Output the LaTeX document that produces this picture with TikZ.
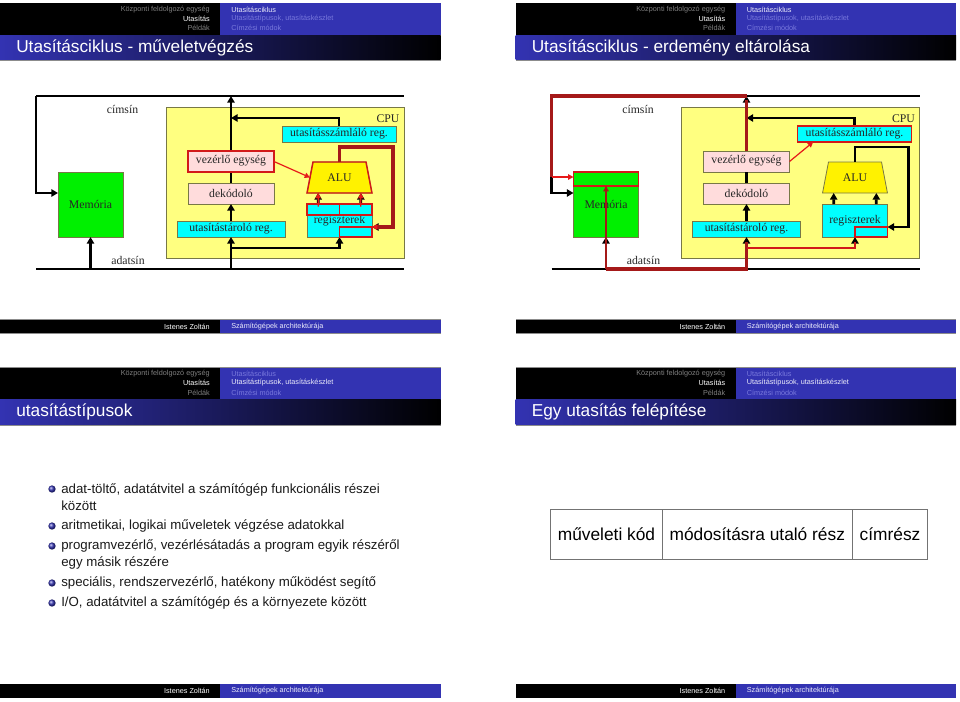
\documentclass[tikz,border=0pt]{standalone}
\usepackage{fontspec}
\setmainfont{Liberation Serif}
\setsansfont{Liberation Sans}
\usetikzlibrary{arrows.meta,positioning,calc,shapes.geometric}
\definecolor{clrHd}{RGB}{51,51,178}
\definecolor{clrOn}{RGB}{235,235,250}
\definecolor{clrOff}{RGB}{120,120,220}
\definecolor{clrCpu}{RGB}{255,255,128}
\definecolor{clrEdge}{RGB}{120,120,70}
\definecolor{clrReg}{RGB}{0,255,255}
\definecolor{clrDec}{RGB}{255,220,220}
\definecolor{clrMem}{RGB}{0,240,0}
\definecolor{clrHl}{RGB}{230,25,25}
\definecolor{clrDk}{RGB}{165,25,25}

\begin{document}
\begin{tikzpicture}[x=0.75pt,y=-0.75pt,
   lbl/.style={font=\rmfamily\fontsize{8.8pt}{10pt}\selectfont,text=black!85},
   unit/.style={rectangle,draw=clrEdge,line width=0.6pt,inner sep=0pt,outer sep=0pt,align=center,
     font=\rmfamily\fontsize{8.8pt}{10pt}\selectfont,text=black!85},
   navl/.style={anchor=east,inner sep=0pt,font=\sffamily\fontsize{5.45pt}{7pt}\selectfont},
   navr/.style={anchor=west,inner sep=0pt,font=\sffamily\fontsize{5.45pt}{7pt}\selectfont},
   ttl/.style={anchor=west,inner sep=0pt,text=white,font=\sffamily\fontsize{12.95pt}{15pt}\selectfont},
   itm/.style={anchor=west,align=left,inner sep=0pt,font=\sffamily\fontsize{9.95pt}{12.5pt}\selectfont,text=black!90},
   dot/.style={circle,shade,ball color=clrHd,minimum size=5.5pt,inner sep=0pt},
   cell/.style={rectangle,draw=black!55,line width=0.8pt,inner sep=0pt,outer sep=0pt,minimum height=38pt,
     font=\sffamily\fontsize{13pt}{15pt}\selectfont},
   wire/.style={line width=2.1pt,black},
   ar/.style={wire,-{Triangle[length=5pt,width=5.5pt]}},
   hl/.style={draw=clrHl!70!clrDk,line width=1.1pt},
   hot/.style={line width=2.4pt,draw=clrDk},
   thin/.style={line width=0.9pt,draw=clrHl,-{Triangle[length=4pt,width=4pt]}}]

  \useasboundingbox (0,0) rectangle (960,701);

  % slide frames
  \foreach \s/\sx/\sy/\head/\cA/\cB in {
      a/0/0/Utasításciklus - műveletvégzés/clrOn/clrOff,
      b/515.5/0/Utasításciklus - erdemény eltárolása/clrOn/clrOff,
      c/0/364.5/utasítástípusok/clrOff/clrOn,
      d/515.5/364.5/Egy utasítás felépítése/clrOff/clrOn} {
    \begin{scope}[shift={(\sx,\sy)}]
      \fill[black!45] (0,2.5) rectangle (440.5,61);
      \fill[black] (0,3) rectangle (220,35);
      \fill[clrHd] (220,3) rectangle (440.5,35);
      \shade[left color=clrHd,right color=black] (0,35) rectangle (440.5,59.5);
      \node[navl,text=black!50] (nav\s1) at (210,9.5) {Központi feldolgozó egység};
      \node[navl,text=white] (nav\s2) at (210,18.5) {Utasítás};
      \node[navl,text=black!50] (nav\s3) at (210,28) {Példák};
      \node[navr,text=\cA] (nav\s4) at (231,9.5) {Utasításciklus};
      \node[navr,text=\cB] (nav\s5) at (231,18.5) {Utasítástípusok, utasításkészlet};
      \node[navr,text=clrOff] (nav\s6) at (231,28) {Címzési módok};
      \node[ttl] (ttl\s) at (16,47.5) {\head};
      \fill[black!45] (0,319) rectangle (440.5,333.5);
      \fill[black] (0,319.5) rectangle (220,333);
      \fill[clrHd] (220,319.5) rectangle (440.5,333);
      \node[navl,text=white] (who\s) at (210,326.5) {Istenes Zoltán};
      \node[navr,text=clrOn] (what\s) at (231,326.5) {Számítógépek architektúrája};
    \end{scope}
  }

  % machine, both slides
  \foreach \s/\sx in {a/0,b/515.5} {
    \begin{scope}[shift={(\sx,0)}]
      \node[unit,fill=clrCpu,minimum width=178.5pt,minimum height=113.25pt] (cpu\s) at (285,182.5) {};
      \node[lbl] (cpul\s) at (388,119) {CPU};
      \node[lbl] (cim\s) at (122.5,109) {címsín};
      \node[lbl] (adat\s) at (128,260.5) {adatsín};
      \node[unit,fill=clrMem,minimum width=48.75pt,minimum height=48.75pt] (mem\s) at (90.5,204.5) {Memória};
      \node[unit,fill=clrReg,minimum width=81pt,minimum height=12pt] (stor\s) at (231,229) {utasítástároló reg.};
      \node[unit,fill=clrDec,minimum width=64.5pt,minimum height=15.75pt] (dek\s) at (231,193.5) {dekódoló};
      \node[unit,fill=clrDec,minimum width=64.5pt,minimum height=15.75pt] (vez\s) at (231,161.5) {\raisebox{2.5pt}{vezérlő egység}};
      \node[unit,fill=clrReg,minimum width=85.5pt,minimum height=12pt] (cnt\s) at (339,134) {utasításszámláló reg.};
      \node[unit,fill=yellow,trapezium,trapezium left angle=71,trapezium right angle=71,trapezium stretches=true,
        minimum width=48.75pt,minimum height=23.25pt] (alu\s) at (339.5,177.5) {ALU};
      \node[unit,fill=clrReg,minimum width=48.75pt,minimum height=24.75pt] (reg\s) at (339.5,220.5) {regiszterek};

      \coordinate (tl\s) at (36,96);
      \coordinate (tr\s) at (404,96);
      \coordinate (tc\s) at (231,96);
      \coordinate (bl\s) at (36,269);
      \coordinate (br\s) at (404,269);
      \coordinate (bc\s) at (231,269);
      \coordinate (bm\s) at (mem\s.south |- bl\s);
      \coordinate (mi\s) at (58,193);
      \coordinate (pc\s) at (231,118);
      \coordinate (ld\s) at (231,248);
      \coordinate (oc\s) at (393,147);
      \coordinate (ri\s) at (372,227);

      \draw[wire] (tl\s) -- (tr\s);
      \draw[wire] (bl\s) -- (br\s);
      \draw[ar] (tl\s) |- (mi\s);
      \draw[ar] (bm\s) -- (mem\s.south);
      \draw[ar] (bc\s) -- (stor\s.south);
      \draw[ar] (stor\s.north) -- (dek\s.south);
      \draw[wire] (dek\s.north) -- (vez\s.south);
      \draw[ar] (vez\s.north) -- (tc\s);
      \draw[ar] (cnt\s.north) |- (pc\s);
      \draw[ar] (ld\s) -| (reg\s.south);
      \draw[ar] (alu\s.north) |- (oc\s) |- (ri\s);
      \draw[ar] ([xshift=-16pt]reg\s.north) -- ([xshift=-16pt]alu\s.south);
      \draw[ar] ([xshift=16pt]reg\s.north) -- ([xshift=16pt]alu\s.south);
    \end{scope}
  }

  % first slide, active parts
  \draw[hl] (veza.south west) rectangle (veza.north east);
  \draw[hl] (alua.bottom left corner) -- (alua.top left corner) -- (alua.top right corner)
    -- (alua.bottom right corner) -- cycle;
  \draw[hl] (rega.north west) rectangle ([yshift=-8.25pt]rega.north);
  \draw[hl] (rega.north) rectangle ([yshift=-8.25pt]rega.north east);
  \draw[hl] (rega.south) rectangle ([yshift=7.5pt]rega.south east);
  \draw[hot,shorten >=3pt] (alua.north) |- (oca) |- (ria);
  \draw[thin] ([xshift=3pt]ria) -- (ria);
  \draw[thin] (veza.east) -- (alua.west);
  \draw[thin] ([xshift=-16pt,yshift=-2pt]rega.north) -- ([xshift=-16pt]alua.south);
  \draw[thin] ([xshift=16pt,yshift=-2pt]rega.north) -- ([xshift=16pt]alua.south);

  % second slide, active parts
  \draw[hot] (bmb) -- (bcb) -- ([yshift=-4pt]storb.south);
  \draw[hot,shorten >=3pt] (vezb.north) -- (tcb);
  \draw[hot] (tcb) -- (tlb) -- ($(tlb)+(0,81)$);
  \draw[hl] (memb.north west) rectangle ([yshift=-10.5pt]memb.north east);
  \draw[hot,line width=1.2pt,-{Triangle[length=4pt,width=4pt]},draw=clrDk] (bmb) -- ([yshift=-10.5pt]memb.north);
  \draw[thin] ($(tlb)+(0,81)$) -- ($(memb.north west)+(0,-3.75pt)$);
  \draw[hl,shorten >=4pt] (ldb) -| (regb.south);
  \draw[hl] (regb.south) rectangle ([yshift=7.5pt]regb.south east);
  \draw[hl] (cntb.south west) rectangle (cntb.north east);
  \draw[thin] (vezb.east) -- ([xshift=-31pt]cntb.south);

  % list
  \node[itm] (it1) at (61,497.5) {adat-töltő, adatátvitel a számítógép funkcionális részei\\között};
  \node[itm] (it2) at (61,526) {aritmetikai, logikai műveletek végzése adatokkal};
  \node[itm] (it3) at (61,554.5) {programvezérlő, vezérlésátadás a program egyik részéről\\egy másik részére};
  \node[itm] (it4) at (61,583) {speciális, rendszervezérlő, hatékony működést segítő};
  \node[itm] (it5) at (61,603) {I/O, adatátvitel a számítógép és a környezete között};
  \node[dot] (dot1) at (52,489) {};
  \node[dot] (dot2) at (52,526) {};
  \node[dot] (dot3) at (52,546) {};
  \node[dot] (dot4) at (52,583) {};
  \node[dot] (dot5) at (52,603) {};

  % instruction format
  \node[cell,minimum width=83.7pt] (op) at (606.5,534.5) {műveleti kód};
  \node[cell,minimum width=142.5pt,right=0pt of op] (mod) {módosításra utaló rész};
  \node[cell,minimum width=56.6pt,right=0pt of mod] (adr) {címrész};
\end{tikzpicture}
\end{document}
